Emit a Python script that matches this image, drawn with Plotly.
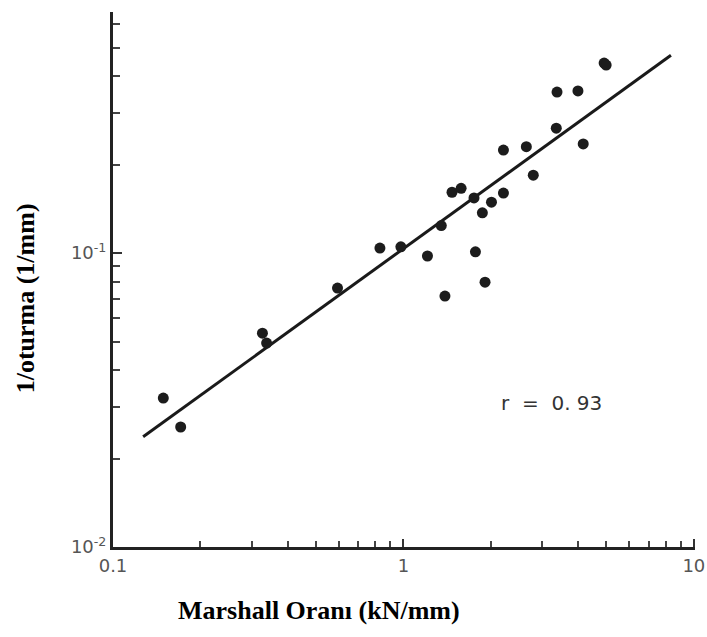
import plotly.graph_objects as go

# Data (log-log)
marshall_ratio = [4.91, 4.99, 3.38, 3.99, 3.36, 4.16, 2.21, 2.65, 2.80, 1.47,
                  1.58, 1.75, 2.01, 2.21, 1.87, 1.35, 0.98, 0.83, 1.21, 1.77,
                  1.91, 1.39, 0.593, 0.327, 0.338, 0.149, 0.171]
inv_settlement = [0.443, 0.436, 0.353, 0.356, 0.266, 0.235, 0.224, 0.230, 0.184, 0.161,
                  0.166, 0.154, 0.149, 0.160, 0.137, 0.124, 0.105, 0.104, 0.0977, 0.101,
                  0.0796, 0.0714, 0.076, 0.0534, 0.0494, 0.0321, 0.0256]

fit_x = [0.127, 8.34]
fit_y = [0.0237, 0.471]

x_tickvals = [0.1, 1, 10]
x_ticktext = ["0.1", "1", "10"]
x_minor = [0.2, 0.3, 0.4, 0.5, 0.6, 0.7, 0.8, 0.9, 2, 3, 4, 5, 6, 7, 8, 9]
y_tickvals = [0.01, 0.1]
y_ticktext = ["10<sup>-2</sup>", "10<sup>-1</sup>"]
y_minor = [0.02, 0.03, 0.04, 0.05, 0.06, 0.07, 0.08, 0.09, 0.2, 0.3, 0.4, 0.5, 0.6]

fig = go.Figure()
fig.add_trace(go.Scatter(x=fit_x, y=fit_y, mode="lines",
                         line=dict(color="#1a1a1a", width=3), showlegend=False))
fig.add_trace(go.Scatter(x=marshall_ratio, y=inv_settlement, mode="markers",
                         marker=dict(color="#1c1c1c", size=11), showlegend=False))

axis_font = dict(family="DejaVu Sans", size=18, color="#555555")
fig.update_xaxes(type="log", range=[-1, 1.004], showline=True, linecolor="#222222",
                 linewidth=3, ticks="inside", ticklen=8, tickwidth=2, tickcolor="#333333",
                 tickmode="array", tickvals=x_tickvals, ticktext=x_ticktext,
                 tickfont=axis_font, showgrid=False, zeroline=False, automargin=False,
                 minor=dict(tickmode="array", tickvals=x_minor, ticks="inside",
                            ticklen=6, tickwidth=2, tickcolor="#444444", showgrid=False))
fig.update_yaxes(type="log", range=[-2, -0.18], showline=True, linecolor="#222222",
                 linewidth=3, ticks="inside", ticklen=9, tickwidth=2, tickcolor="#333333",
                 tickmode="array", tickvals=y_tickvals, ticktext=y_ticktext,
                 tickfont=axis_font, showgrid=False, zeroline=False, automargin=False,
                 minor=dict(tickmode="array", tickvals=y_minor, ticks="inside",
                            ticklen=7, tickwidth=2, tickcolor="#444444", showgrid=False))

fig.add_annotation(text="<b>Marshall Oranı (kN/mm)</b>", xref="paper", yref="paper",
                   x=0.354, y=-0.118, showarrow=False,
                   font=dict(family="Liberation Serif", size=26, color="#000000"),
                   xanchor="center", yanchor="middle")
fig.add_annotation(text="<b>1/oturma (1/mm)</b>", xref="paper", yref="paper",
                   x=-0.151, y=0.465, showarrow=False, textangle=-90,
                   font=dict(family="Liberation Serif", size=26, color="#000000"),
                   xanchor="center", yanchor="middle")
fig.add_annotation(text="r  =  0. 93", xref="paper", yref="paper",
                   x=0.753, y=0.269, showarrow=False,
                   font=dict(family="DejaVu Sans", size=20, color="#333333"),
                   xanchor="center", yanchor="middle")

fig.update_layout(width=707, height=637, margin=dict(l=113, r=12, t=12, b=90),
                  plot_bgcolor="white", paper_bgcolor="white")
fig.write_html("out.html")
